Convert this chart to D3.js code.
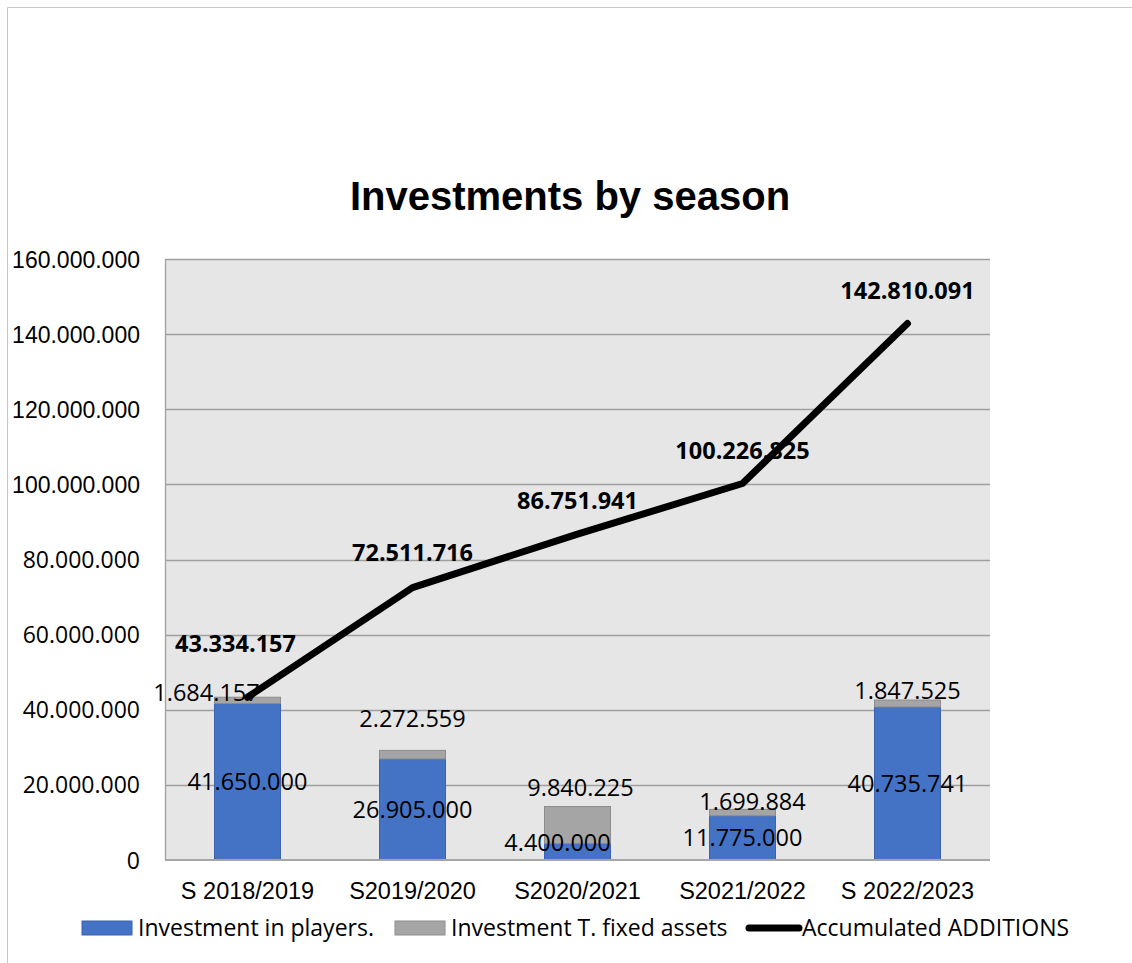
<!DOCTYPE html>
<html><head><meta charset="utf-8">
<script src="https://cdn.jsdelivr.net/npm/d3@7"></script>
<style>
html,body{margin:0;padding:0;background:#fff;}
svg{display:block;}
</style></head>
<body>
<svg id="chart" width="1132" height="963"></svg>
<script>
const categories = ["S 2018/2019","S2019/2020","S2020/2021","S2021/2022","S 2022/2023"];
const players = [41650000, 26905000, 4400000, 11775000, 40735741];
const fixedAssets = [1684157, 2272559, 9840225, 1699884, 1847525];
const accumulated = [43334157, 72511716, 86751941, 100226825, 142810091];
const yTicks = [0,20000000,40000000,60000000,80000000,100000000,120000000,140000000,160000000];
const title = "Investments by season";
const legendLabels = ["Investment in players.","Investment T. fixed assets","Accumulated ADDITIONS"];

const gillFont = "'Liberation Sans',Arial,sans-serif";
const calFont = "'Open Sans','Noto Sans',sans-serif";
const fmt = v => d3.format(",")(v).replace(/,/g,".");

const svg = d3.select("#chart");
const W=1132,H=963;
const m = {left:165, right:142, top:259, bottom:103};
const x = d3.scaleBand().domain(categories).range([m.left, W-m.right]).paddingInner(0.6).paddingOuter(0.3);
const y = d3.scaleLinear().domain([0,160000000]).range([H-m.bottom, m.top]);

// label placement nudges (layout only, in px)
const fixedLabelNudge = [{dx:-41,dy:-4},{dx:0,dy:-32},{dx:3,dy:-19},{dx:10,dy:-8},{dx:0,dy:-9}];
const playerLabelNudge = [{dx:0},{dx:0},{dx:-20},{dx:0},{dx:0}];
const accLabelNudge = [{dx:-12,dy:-53},{dx:0,dy:-35},{dx:0,dy:-33},{dx:0,dy:-33},{dx:0,dy:-33}];

// outer border
svg.append("path").attr("d",`M7.5,963 V7.5 H1132`).attr("fill","none").attr("stroke","#c8c8c8").attr("stroke-width",1);

// plot background
svg.append("rect").attr("x",m.left).attr("y",m.top).attr("width",W-m.right-m.left).attr("height",H-m.bottom-m.top)
  .attr("fill","#e6e6e6");

// gridlines
svg.append("g").selectAll("line").data(yTicks.slice(1)).join("line")
  .attr("x1",m.left).attr("x2",W-m.right).attr("y1",d=>Math.round(y(d))+0.5).attr("y2",d=>Math.round(y(d))+0.5)
  .attr("stroke","#a0a0a0").attr("stroke-width",1.3);
svg.append("line").attr("x1",m.left+0.5).attr("x2",m.left+0.5).attr("y1",m.top).attr("y2",H-m.bottom)
  .attr("stroke","#a0a0a0").attr("stroke-width",1.3);

// y axis
const yAxis = svg.append("g").attr("transform",`translate(${m.left-25},0)`)
  .call(d3.axisLeft(y).tickValues(yTicks).tickFormat(fmt).tickSize(0).tickPadding(0));
yAxis.select(".domain").remove();
yAxis.selectAll("text").attr("font-family",d=> d>=100000000 ? gillFont : calFont)
  .attr("font-size",23).attr("fill","#000").attr("dy","0.35em");

// bars
const stacks = categories.map((c,i)=>({c, i, p:players[i], f:fixedAssets[i]}));
const g = svg.append("g");
g.selectAll("rect.p").data(stacks).join("rect").attr("class","p")
  .attr("x",d=>x(d.c)).attr("width",x.bandwidth())
  .attr("y",d=>y(d.p)).attr("height",d=>y(0)-y(d.p))
  .attr("fill","#4472c4").attr("stroke","#3a62ad").attr("stroke-width",1);
g.selectAll("rect.f").data(stacks).join("rect").attr("class","f")
  .attr("x",d=>x(d.c)).attr("width",x.bandwidth())
  .attr("y",d=>y(d.p+d.f)).attr("height",d=>y(d.p)-y(d.p+d.f))
  .attr("fill","#a5a5a5").attr("stroke","#8c8c8c").attr("stroke-width",1);

// bottom axis line
svg.append("line").attr("x1",m.left).attr("x2",W-m.right).attr("y1",y(0)).attr("y2",y(0))
  .attr("stroke","#a6a6a6").attr("stroke-width",2);

// x axis
const xAxis = svg.append("g").attr("transform",`translate(0,${y(0)+31})`)
  .call(d3.axisBottom(x).tickSize(0).tickPadding(0));
xAxis.select(".domain").remove();
xAxis.selectAll("text").attr("font-family",gillFont).attr("font-size",23.5).attr("fill","#000").attr("dy","0.35em");

// line
const cx = c => x(c)+x.bandwidth()/2;
svg.append("path").datum(accumulated.map((v,i)=>[categories[i],v]))
  .attr("d",d3.line().x(d=>cx(d[0])).y(d=>y(d[1])))
  .attr("fill","none").attr("stroke","#000").attr("stroke-width",7)
  .attr("stroke-linecap","round").attr("stroke-linejoin","round");

// labels
const lbl = svg.append("g").attr("font-family",calFont).attr("font-size",23.5).attr("text-anchor","middle").attr("fill","#000");
lbl.selectAll("text.p").data(stacks).join("text").attr("class","p")
  .attr("x",d=>cx(d.c)+playerLabelNudge[d.i].dx).attr("y",d=>Math.min((y(0)+y(d.p))/2, y(0)-17)).attr("dy","0.35em")
  .text(d=>fmt(d.p));
lbl.selectAll("text.f").data(stacks).join("text").attr("class","f")
  .attr("x",d=>cx(d.c)+fixedLabelNudge[d.i].dx).attr("y",d=>y(d.p+d.f)+fixedLabelNudge[d.i].dy).attr("dy","0.35em")
  .text(d=>fmt(d.f));
lbl.selectAll("text.a").data(accumulated).join("text").attr("class","a")
  .attr("x",(d,i)=>cx(categories[i])+accLabelNudge[i].dx).attr("y",(d,i)=>y(d)+accLabelNudge[i].dy).attr("dy","0.35em")
  .attr("font-weight","bold")
  .text(d=>fmt(d));

// title
svg.append("text").attr("x",570).attr("y",210).attr("text-anchor","middle")
  .attr("font-family",gillFont).attr("font-weight","bold").attr("font-size",40).text(title);

// legend
const lg = svg.append("g").attr("font-family",calFont).attr("font-size",23);
const legendItems = [
  {t:legendLabels[0], type:"rect", fill:"#4472c4", stroke:"#3a62ad", x:82},
  {t:legendLabels[1], type:"rect", fill:"#a5a5a5", stroke:"#8c8c8c", x:395},
  {t:legendLabels[2], type:"line", x:746}
];
const ly = 928;
legendItems.forEach(it=>{
  if(it.type==="rect"){
    lg.append("rect").attr("x",it.x).attr("y",ly-7).attr("width",50).attr("height",14).attr("fill",it.fill).attr("stroke",it.stroke);
  } else {
    lg.append("line").attr("x1",it.x+3).attr("x2",it.x+53).attr("y1",ly).attr("y2",ly).attr("stroke","#000").attr("stroke-width",7).attr("stroke-linecap","round");
  }
  lg.append("text").attr("x",it.x+56).attr("y",ly).attr("dy","0.35em").text(it.t);
});
</script>
</body></html>
